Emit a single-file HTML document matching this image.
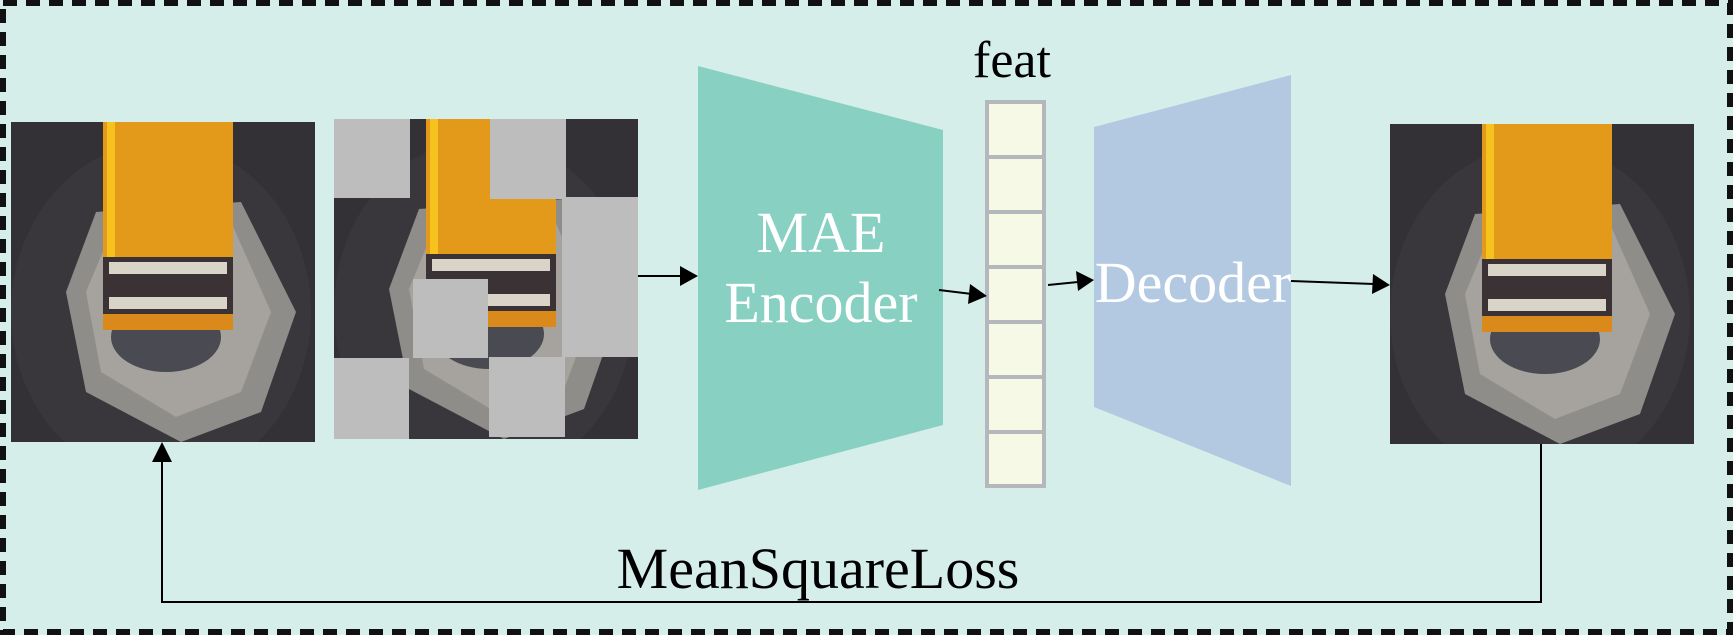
<!DOCTYPE html>
<html><head><style>
html,body{margin:0;padding:0;background:#fff}
svg{display:block}
text{font-family:"Liberation Serif",serif}
</style></head><body>
<svg width="1733" height="635" viewBox="0 0 1733 635" xmlns="http://www.w3.org/2000/svg">
<defs>
<symbol id="img" viewBox="0 0 304 320">
<rect width="304" height="320" fill="#333036"/>
<ellipse cx="150" cy="190" rx="150" ry="170" fill="#3a373c"/>
<polygon points="85,90 230,80 285,190 250,290 170,320 75,270 55,170" fill="#8f8d8a"/>
<polygon points="100,110 220,100 260,190 230,270 165,295 90,250 75,170" fill="#a6a39e"/>
<ellipse cx="155" cy="215" rx="55" ry="35" fill="#4a4a52"/>
<rect x="92" y="0" width="130" height="140" fill="#e39a1a"/>
<rect x="96" y="0" width="8" height="140" fill="#f5c21e"/>
<rect x="92" y="135" width="130" height="65" fill="#3a3234"/>
<rect x="98" y="140" width="118" height="12" fill="#d8d4c8"/>
<rect x="98" y="175" width="118" height="12" fill="#d8d4c8"/>
<rect x="92" y="192" width="130" height="16" fill="#d98a1a"/>
</symbol>
</defs>
<rect x="0" y="0" width="1733" height="635" fill="#d6eeea"/>
<rect x="3" y="3" width="1727" height="629" fill="none" stroke="#111" stroke-width="6" stroke-dasharray="14,9"/>

<use href="#img" x="11" y="122" width="304" height="320"/>
<use href="#img" x="334" y="119" width="304" height="320"/>
<g fill="#bdbdbd">
<rect x="334" y="119" width="76" height="79"/>
<rect x="490" y="119" width="76" height="80"/>
<rect x="562" y="197" width="76" height="160"/>
<rect x="413" y="279" width="75" height="79"/>
<rect x="334" y="358" width="75" height="81"/>
<rect x="489" y="357" width="76" height="80"/>
</g>
<use href="#img" x="1390" y="124" width="304" height="320"/>

<polygon points="698,66 943,130 943,425 698,490" fill="#88d0c2"/>
<polygon points="1094,127 1291,75 1291,486 1094,407" fill="#b3c9e1"/>

<g fill="#f6f9e6" stroke="#b4b8bc" stroke-width="4">
<rect x="987" y="102" width="57" height="55"/>
<rect x="987" y="157" width="57" height="55"/>
<rect x="987" y="212" width="57" height="55"/>
<rect x="987" y="267" width="57" height="55"/>
<rect x="987" y="322" width="57" height="55"/>
<rect x="987" y="377" width="57" height="55"/>
<rect x="987" y="432" width="57" height="54"/>
</g>

<text x="1012" y="77" font-size="52" text-anchor="middle" fill="#000">feat</text>
<text x="821" y="252" font-size="58" text-anchor="middle" fill="#fff">MAE</text>
<text x="821" y="322" font-size="58" text-anchor="middle" fill="#fff">Encoder</text>
<text x="1193" y="302" font-size="58" text-anchor="middle" fill="#fff">Decoder</text>
<text x="818" y="588" font-size="58" text-anchor="middle" fill="#000">MeanSquareLoss</text>

<g stroke="#000" stroke-width="2" fill="none">
<line x1="638" y1="276" x2="682" y2="276"/>
<line x1="939" y1="290" x2="972" y2="294"/>
<line x1="1048" y1="285" x2="1078" y2="282"/>
<line x1="1291" y1="281" x2="1374" y2="284"/>
<polyline points="1541,444 1541,602 162,602 162,460"/>
</g>
<g fill="#000">
<polygon points="698,276 680,266 680,286"/>
<polygon points="987,296 970,284 968,304"/>
<polygon points="1094,280 1076,271 1078,291"/>
<polygon points="1390,285 1373,274 1372,294"/>
<polygon points="162,442 152,462 172,462"/>
</g>
</svg>
</body></html>
